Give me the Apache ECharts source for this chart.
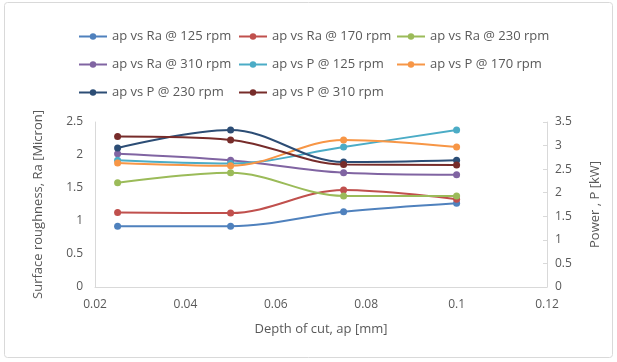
<!DOCTYPE html>
<html>
<head>
<meta charset="utf-8">
<script src="https://cdn.jsdelivr.net/npm/echarts@6/dist/echarts.min.js"></script>
<style>html,body{margin:0;padding:0;background:#fff}#c{width:617px;height:362px}</style>
</head>
<body>
<div id="c"></div>
<script>
var depths = [0.025, 0.05, 0.075, 0.1];
var xTicks = ["0.02", "0.04", "0.06", "0.08", "0.1", "0.12"];
var ra125 = [0.92, 0.92, 1.14, 1.27];
var ra170 = [1.13, 1.12, 1.47, 1.33];
var ra230 = [1.58, 1.73, 1.38, 1.38];
var ra310 = [2.02, 1.92, 1.73, 1.70];
var p125 = [2.69, 2.62, 2.97, 3.33];
var p170 = [2.63, 2.57, 3.12, 2.97];
var p230 = [2.95, 3.33, 2.65, 2.69];
var p310 = [3.19, 3.12, 2.60, 2.59];
var names = ["ap vs Ra @ 125 rpm", "ap vs Ra @ 170 rpm", "ap vs Ra @ 230 rpm", "ap vs Ra @ 310 rpm",
             "ap vs P @ 125 rpm", "ap vs P @ 170 rpm", "ap vs P @ 230 rpm", "ap vs P @ 310 rpm"];
var colors = ["#4F81BD", "#C0504D", "#9BBB59", "#8064A2", "#4BACC6", "#F79646", "#2C4D75", "#772C2A"];
var values = [ra125, ra170, ra230, ra310, p125, p170, p230, p310];
var axisIdx = [0, 0, 0, 0, 1, 1, 1, 1];

var FONT = "Open Sans";
var TXT = "#595959";
var series = values.map(function (v, i) {
  return {
    name: names[i], type: "line", yAxisIndex: axisIdx[i],
    data: v.map(function (y, j) { return [depths[j], y]; }),
    smooth: 0.35, symbol: "circle", symbolSize: 7,
    lineStyle: { width: 2, color: colors[i] },
    itemStyle: { color: colors[i] }
  };
});
function legend(left, items) {
  return {
    left: left, top: 25, orient: "vertical", itemGap: 15,
    itemWidth: 28, itemHeight: 8,
    textStyle: { fontFamily: FONT, fontSize: 13, color: TXT },
    data: items
  };
}
var chart = echarts.init(document.getElementById("c"));
chart.setOption({
  animation: false,
  color: colors,
  textStyle: { fontFamily: FONT },
  graphic: [{ type: "rect", shape: { x: 4.5, y: 2.5, width: 608, height: 355, r: 3 }, style: { fill: "none", stroke: "#D9D9D9", lineWidth: 1 } }],
  legend: [
    legend(73, [names[0], names[3], names[6]]),
    legend(233, [names[1], names[4], names[7]]),
    legend(391, [names[2], names[5]])
  ],
  grid: { left: 95, right: 70, top: 122, bottom: 75 },
  xAxis: {
    type: "value", min: 0.02, max: 0.12, interval: 0.02,
    name: "Depth of cut, ap [mm]", nameLocation: "middle", nameGap: 36,
    nameTextStyle: { fontFamily: FONT, fontSize: 13, color: TXT },
    axisLine: { show: true, lineStyle: { color: "#D9D9D9" } },
    axisTick: { show: false },
    splitLine: { show: false },
    axisLabel: { fontFamily: FONT, fontSize: 12, color: TXT, margin: 12,
      formatter: function (v) { var i = Math.round((v - 0.02) / 0.02); return xTicks[i] || ""; } }
  },
  yAxis: [{
    type: "value", min: 0, max: 2.5, interval: 0.5,
    name: "Surface roughness, Ra [Micron]", nameLocation: "middle", nameGap: 50, nameRotate: 90,
    nameTextStyle: { fontFamily: FONT, fontSize: 13, color: TXT },
    axisLine: { show: true, lineStyle: { color: "#D9D9D9" } },
    axisTick: { show: false }, splitLine: { show: false },
    axisLabel: { fontFamily: FONT, fontSize: 12, color: TXT, margin: 12 }
  }, {
    type: "value", min: 0, max: 3.5, interval: 0.5, position: "right",
    name: "Power , P [kW]", nameLocation: "middle", nameGap: 42, nameRotate: 90,
    nameTextStyle: { fontFamily: FONT, fontSize: 13, color: TXT },
    axisLine: { show: true, lineStyle: { color: "#D9D9D9" } },
    axisTick: { show: true, inside: true, length: 4, lineStyle: { color: "#D9D9D9" } },
    splitLine: { show: false },
    axisLabel: { fontFamily: FONT, fontSize: 12, color: TXT, margin: 8 }
  }],
  series: series
});
</script>
</body>
</html>
